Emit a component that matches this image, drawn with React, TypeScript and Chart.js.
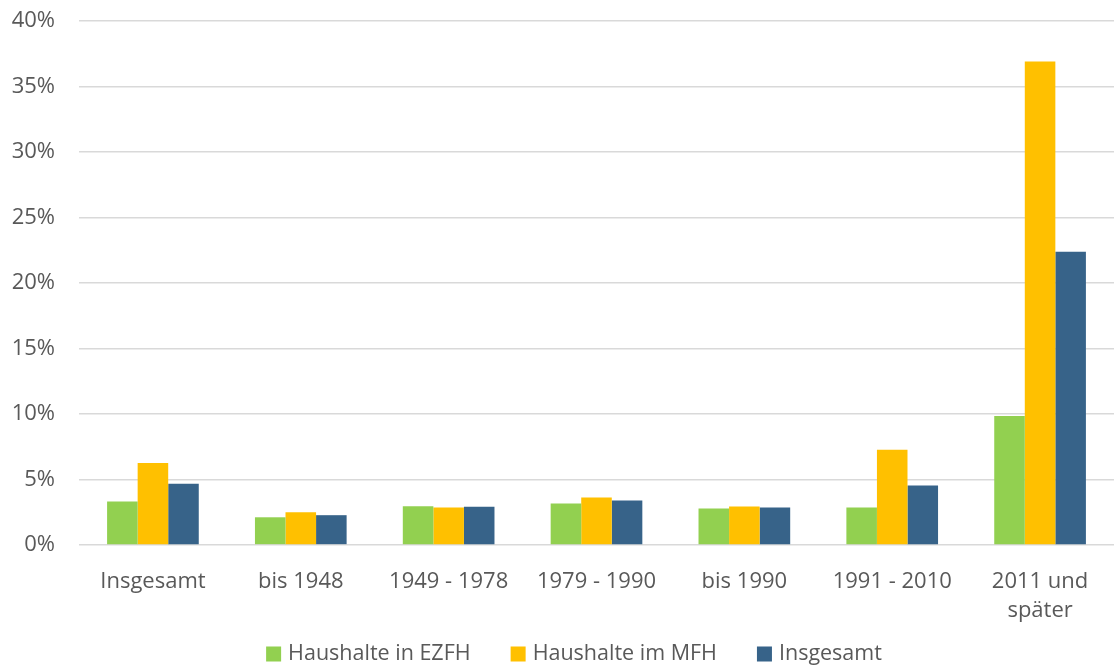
import React, { useEffect, useRef } from "react";
import { Chart, registerables } from "chart.js";

Chart.register(...registerables);

const categories: (string | string[])[] = [
  "Insgesamt",
  "bis 1948",
  "1949 - 1978",
  "1979 - 1990",
  "bis 1990",
  "1991 - 2010",
  ["2011 und", "später"],
];
const ezfh = [3.31, 2.11, 2.96, 3.16, 2.78, 2.86, 9.85];
const mfh = [6.25, 2.5, 2.86, 3.62, 2.93, 7.27, 36.9];
const insgesamt = [4.67, 2.27, 2.91, 3.39, 2.86, 4.54, 22.38];
const seriesNames = ["Haushalte in EZFH", "Haushalte im MFH", "Insgesamt"];
const seriesColors = ["#92d050", "#ffc000", "#376389"];
const yTicks = [0, 5, 10, 15, 20, 25, 30, 35, 40];

const FONT = "'Open Sans', 'Noto Sans', sans-serif";
const TEXT = "#595959";

const bottomLegend = {
  id: "bottomLegend",
  afterDraw(chart: any) {
    const ctx = chart.ctx as CanvasRenderingContext2D;
    const box = 15;
    const gapBoxText = 7;
    const gapItems = 40;
    ctx.save();
    ctx.font = `21.5px ${FONT}`;
    ctx.textBaseline = "middle";
    ctx.textAlign = "left";
    const items = chart.data.datasets.map((d: any) => ({
      label: d.label as string,
      color: d.backgroundColor as string,
      w: ctx.measureText(d.label).width,
    }));
    const total =
      items.reduce((s: number, it: any) => s + box + gapBoxText + it.w, 0) +
      gapItems * (items.length - 1);
    const cx = chart.width / 2 + 17;
    const cy = chart.height - 12;
    let x = cx - total / 2;
    for (const it of items) {
      ctx.fillStyle = it.color;
      ctx.fillRect(x, cy - box / 2, box, box);
      x += box + gapBoxText;
      ctx.fillStyle = TEXT;
      ctx.fillText(it.label, x, cy);
      x += it.w + gapItems;
    }
    ctx.restore();
  },
};

export default function App() {
  const ref = useRef<HTMLCanvasElement | null>(null);
  useEffect(() => {
    document.body.style.margin = "0";
    const ctx = ref.current!.getContext("2d")!;
    const mk = (i: number, data: number[]) => ({
      label: seriesNames[i],
      data,
      backgroundColor: seriesColors[i],
      borderWidth: 0,
      categoryPercentage: 0.62,
      barPercentage: 1,
    });
    const chart = new Chart(ctx, {
      type: "bar",
      data: {
        labels: categories as any,
        datasets: [mk(0, ezfh), mk(1, mfh), mk(2, insgesamt)],
      },
      plugins: [bottomLegend],
      options: {
        animation: false,
        responsive: false,
        maintainAspectRatio: false,
        layout: { padding: { left: 0, right: 0, top: 21, bottom: 27 } },
        plugins: {
          tooltip: { enabled: false },
          legend: { display: false },
        },
        scales: {
          x: {
            grid: { display: false },
            border: { display: false },
            ticks: {
              color: TEXT,
              font: { family: FONT, size: 22, lineHeight: 1.32 },
              padding: 14,
              maxRotation: 0,
              autoSkip: false,
            },
          },
          y: {
            min: 0,
            max: 40,
            afterBuildTicks: (axis: any) => {
              axis.ticks = yTicks.map((v) => ({ value: v }));
            },
            afterFit: (axis: any) => {
              axis.width = 79;
              axis.paddingTop = 0;
              axis.paddingBottom = 0;
            },
            grid: { color: "#d9d9d9", lineWidth: 1.5, drawTicks: false },
            border: { display: false },
            ticks: {
              color: TEXT,
              font: { family: FONT, size: 22 },
              padding: 24,
              callback: (v: any) => v + "%",
            },
          },
        },
      },
    });
    return () => chart.destroy();
  }, []);
  return (
    <div style={{ width: 1114, height: 666 }}>
      <canvas ref={ref} width={1114} height={666} style={{ display: "block" }} />
    </div>
  );
}
